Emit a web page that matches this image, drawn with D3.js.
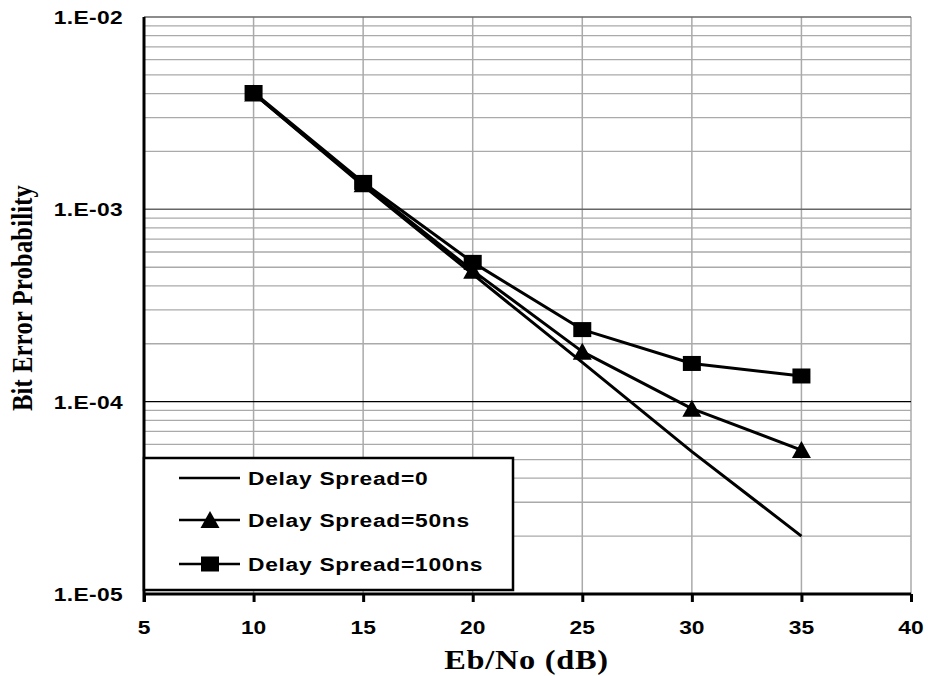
<!DOCTYPE html>
<html><head><meta charset="utf-8">
<script src="https://cdn.jsdelivr.net/npm/d3@7"></script>
<style>body{margin:0;background:#fff}svg{display:block}</style>
</head><body>
<svg id="chart" width="928" height="676"></svg>
<script>
const ebno = [10, 15, 20, 25, 30, 35];
const spread0 = [4.0e-3, 1.33e-3, 4.6e-4, 1.6e-4, 5.5e-5, 2.0e-5];
const spread50 = [4.0e-3, 1.35e-3, 4.8e-4, 1.82e-4, 9.2e-5, 5.6e-5];
const spread100 = [4.05e-3, 1.38e-3, 5.3e-4, 2.37e-4, 1.58e-4, 1.36e-4];
const seriesNames = ["Delay Spread=0", "Delay Spread=50ns", "Delay Spread=100ns"];
const xTicks = [5, 10, 15, 20, 25, 30, 35, 40];
const yTicks = [1e-2, 1e-3, 1e-4, 1e-5];
const yTickLabels = ["1.E-02", "1.E-03", "1.E-04", "1.E-05"];

const svg = d3.select("#chart");
const L = 144, R = 911, T = 17, B = 594;
const SX = 1.2; // horizontal glyph stretch of the original
const x = d3.scaleLinear().domain([5, 40]).range([L, R]);
const y = d3.scaleLog().domain([1e-5, 1e-2]).range([B, T]);

// minor horizontal gridlines
const minor = [];
[1e-5, 1e-4, 1e-3].forEach(d => { for (let k = 2; k <= 9; k++) minor.push(d * k); });
svg.append("g").selectAll("line").data(minor).join("line")
  .attr("x1", L).attr("x2", R).attr("y1", d => y(d)).attr("y2", d => y(d))
  .attr("stroke", "#aaa").attr("stroke-width", 1.3);
// vertical gridlines
svg.append("g").selectAll("line").data(xTicks.slice(1)).join("line")
  .attr("x1", d => x(d)).attr("x2", d => x(d)).attr("y1", T).attr("y2", B)
  .attr("stroke", "#aaa").attr("stroke-width", 1.5);
// major horizontal gridlines
svg.append("g").selectAll("line").data([1e-2, 1e-3, 1e-4]).join("line")
  .attr("x1", L).attr("x2", R).attr("y1", d => y(d)).attr("y2", d => y(d))
  .attr("stroke", (d, i) => i === 2 ? "#000" : "#666").attr("stroke-width", (d, i) => i === 2 ? 1.2 : 1.5);

// axes
const xAxis = d3.axisBottom(x).tickValues(xTicks).tickSize(8).tickFormat("");
const gx = svg.append("g").attr("transform", `translate(0,${B})`).call(xAxis);
gx.select(".domain").attr("stroke", "#000").attr("stroke-width", 3).attr("d", `M${L},0H${R}`);
gx.selectAll(".tick line").attr("stroke", "#000").attr("stroke-width", 3);
const yAxis = d3.axisLeft(y).tickValues(yTicks).tickSize(0).tickFormat("");
const gy = svg.append("g").attr("transform", `translate(${L},0)`).call(yAxis);
gy.select(".domain").attr("stroke", "#000").attr("stroke-width", 3).attr("d", `M0,${T}V${B + 8}`);

// tick labels
const font = "'Liberation Sans', Arial, sans-serif";
xTicks.forEach(v => {
  svg.append("text").attr("transform", `translate(${x(v)},634) scale(${SX},1)`)
    .attr("text-anchor", "middle").attr("font-family", font).attr("font-weight", "bold")
    .attr("font-size", 19).text(v);
});
yTicks.forEach((v, i) => {
  svg.append("text").attr("transform", `translate(123,${y(v) + 7}) scale(${SX},1)`)
    .attr("text-anchor", "end").attr("font-family", font).attr("font-weight", "bold")
    .attr("font-size", 19).attr("letter-spacing", 0.3).text(yTickLabels[i]);
});

// axis titles
const serif = "'Liberation Serif', 'Times New Roman', serif";
svg.append("text").attr("transform", `translate(${(L + R) / 2 - 1},669) scale(${SX},1)`)
  .attr("text-anchor", "middle").attr("font-family", serif).attr("font-weight", "bold")
  .attr("font-size", 27).attr("letter-spacing", 0.6).text("Eb/No (dB)");
svg.append("text").attr("transform", `translate(32,298) scale(${SX},1) rotate(-90)`)
  .attr("text-anchor", "middle").attr("font-family", serif).attr("font-weight", "bold")
  .attr("font-size", 24.5).attr("letter-spacing", 0.2).text("Bit Error Probability");

// series
const line = d3.line().x(d => x(d[0])).y(d => y(d[1]));
const allSeries = [spread0, spread50, spread100];
const markers = [null, "tri", "sq"];
allSeries.forEach(s => {
  svg.append("path").datum(ebno.map((e, i) => [e, s[i]])).attr("d", line)
    .attr("fill", "none").attr("stroke", "#000").attr("stroke-width", 3).attr("stroke-linejoin", "round");
});
function drawMarker(g, type, cx, cy) {
  if (type === "sq") {
    g.append("rect").attr("x", cx - 9).attr("y", cy - 7.5).attr("width", 18).attr("height", 15).attr("fill", "#000");
  } else if (type === "tri") {
    g.append("path").attr("d", `M${cx},${cy - 9}L${cx + 9.5},${cy + 8}L${cx - 9.5},${cy + 8}Z`).attr("fill", "#000");
  }
}
const mg = svg.append("g");
allSeries.forEach((s, si) => {
  if (!markers[si]) return;
  ebno.forEach((e, i) => drawMarker(mg, markers[si], x(e), y(s[i])));
});

// legend
const lg = svg.append("g");
lg.append("rect").attr("x", 144).attr("y", 458).attr("width", 369).attr("height", 132)
  .attr("fill", "#fff").attr("stroke", "#000").attr("stroke-width", 2.5);
const rowsY = [478, 520, 564];
seriesNames.forEach((n, i) => {
  lg.append("line").attr("x1", 179).attr("x2", 240).attr("y1", rowsY[i]).attr("y2", rowsY[i])
    .attr("stroke", "#000").attr("stroke-width", 2.5);
  drawMarker(lg, markers[i], 210, rowsY[i]);
  lg.append("text").attr("transform", `translate(248,${rowsY[i] + 7}) scale(${SX},1)`)
    .attr("font-family", font).attr("font-weight", "bold").attr("font-size", 19)
    .attr("letter-spacing", 0.6).text(n);
});
</script>
</body></html>
